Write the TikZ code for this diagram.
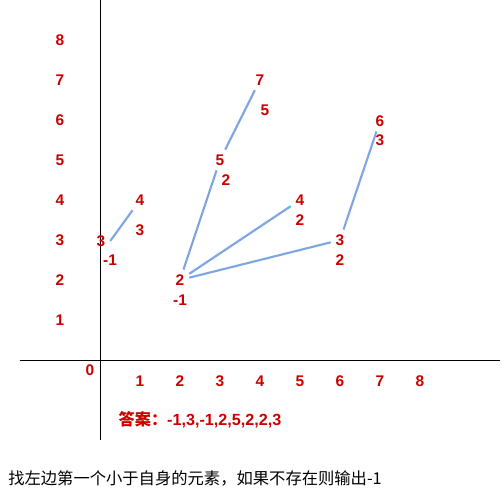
\documentclass[tikz,border=0pt]{standalone}
\usepackage{fontspec}
\setmainfont{Liberation Sans}
\newfontfamily\cjk{Noto Sans CJK SC}
\usepackage{xcolor}
\usepackage{tikz}
\usetikzlibrary{positioning}

\definecolor{labelred}{HTML}{CC0000}
\definecolor{linkblue}{HTML}{7EA6E0}

\begin{document}
\begin{tikzpicture}[
        axis/.style={draw=black, line width=0.7pt},
        tick/.style={text=labelred, font=\fontsize{11}{13}\selectfont\bfseries},
        val/.style={text=labelred, font=\fontsize{11}{13}\selectfont\bfseries},
        link/.style={draw=linkblue, line width=1.5pt}
    ]
    \useasboundingbox (-2.5,-3.275) rectangle (10.05,9);

    % axes
    \coordinate (Y1) at (0,9);
    \coordinate (Y2) at (0,-2);
    \coordinate (X1) at (-2,0);
    \coordinate (X2) at (10,0);
    \draw[axis] (Y1) -- (Y2);
    \draw[axis] (X1) -- (X2);

    % y ticks
    \node[tick] (Y8) at (-1,8) {8};
    \node[tick] (Y7) at (-1,7) {7};
    \node[tick] (Y6) at (-1,6) {6};
    \node[tick] (Y5) at (-1,5) {5};
    \node[tick] (Y4) at (-1,4) {4};
    \node[tick] (Y3) at (-1,3) {3};
    \node[tick] (Y2t) at (-1,2) {2};
    \node[tick] (Y1t) at (-1,1) {1};
    \node[tick] (O) at (-0.25,-0.25) {0};

    % x ticks
    \node[tick] (X1t) at (1,-0.525) {1};
    \node[tick] (X2t) at (2,-0.525) {2};
    \node[tick] (X3t) at (3,-0.525) {3};
    \node[tick] (X4t) at (4,-0.525) {4};
    \node[tick] (X5t) at (5,-0.525) {5};
    \node[tick] (X6t) at (6,-0.525) {6};
    \node[tick] (X7t) at (7,-0.525) {7};
    \node[tick] (X8t) at (8,-0.525) {8};

    % values
    \node[val] (V0) at (0.025,2.975) {3};
    \node[val] (V1) at (1,4) {4};
    \node[val] (V2) at (2,2) {2};
    \node[val] (V3) at (3,5) {5};
    \node[val] (V4) at (4,7) {7};
    \node[val] (V5) at (5,4) {4};
    \node[val] (V6) at (6,3) {3};
    \node[val] (V7) at (7,5.975) {6};

    % answers
    \node[val] (A0) at (0.25,2.5) {-1};
    \node[val] (A1) at (1,3.25) {3};
    \node[val] (A2) at (2,1.5) {-1};
    \node[val] (A3) at (3.15,4.5) {2};
    \node[val] (A4) at (4.125,6.25) {5};
    \node[val] (A5) at (5,3.5) {2};
    \node[val] (A6) at (6,2.5) {2};
    \node[val] (A7) at (7,5.5) {3};

    % links to the left smaller element
    \draw[link] (V0.east) -- (V1);
    \draw[link] (V2) -- (V3);
    \draw[link] (V3) -- (V4);
    \draw[link] (V2) -- (V5);
    \draw[link] (V2) -- (V6);
    \draw[link] (V6) -- (V7);

    \node[val, font=\fontsize{11.5}{13}\selectfont\bfseries] (ans) at (2.5,-1.5) {{\cjk 答案：}-1,3,-1,2,5,2,2,3};

    \node[anchor=west, inner sep=0pt, font=\cjk\fontsize{11.6}{13}\selectfont] (title) at (-2.3,-2.95) {找左边第一个小于自身的元素，如果不存在则输出-1};

\end{tikzpicture}
\end{document}
